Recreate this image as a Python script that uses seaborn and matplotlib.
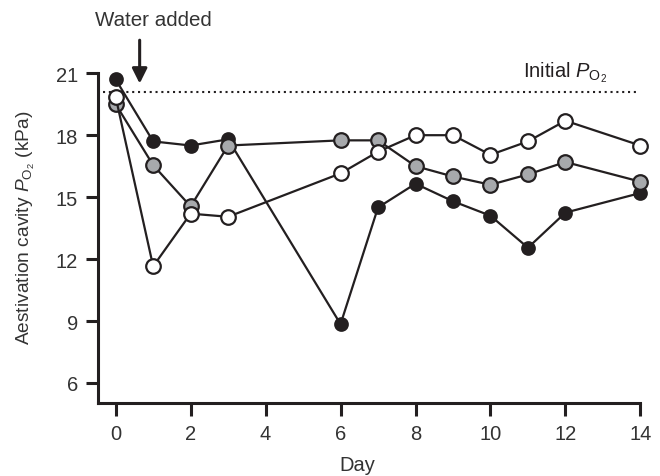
import numpy as np
import pandas as pd
import matplotlib
matplotlib.use("Agg")
import matplotlib.pyplot as plt
import seaborn as sns

# Day of measurement
days = [0, 1, 2, 3, 6, 7, 8, 9, 10, 11, 12, 14]

# Aestivation cavity PO2 (kPa) for three animals
po2_black = [20.7, 17.7, 17.5, 17.8, 8.85, 14.5, 15.65, 14.8, 14.1, 12.55, 14.25, 15.2]
po2_grey = [19.5, 16.55, 14.55, 17.5, 17.75, 17.75, 16.5, 16.0, 15.6, 16.1, 16.7, 15.75]
po2_white = [19.85, 11.65, 14.2, 14.05, 16.15, 17.2, 18.0, 18.0, 17.05, 17.7, 18.7, 17.5]

initial_po2 = 20.08
x_ticks = [0, 2, 4, 6, 8, 10, 12, 14]
y_ticks = [6, 9, 12, 15, 18, 21]

ink = '#231f20'
text_col = '#333333'

sns.set_style("ticks")
plt.rcParams['font.family'] = ['Liberation Sans', 'DejaVu Sans']
plt.rcParams['mathtext.fontset'] = 'custom'
plt.rcParams['mathtext.rm'] = 'Liberation Sans'
plt.rcParams['mathtext.it'] = 'Liberation Sans:italic'

fig = plt.figure(figsize=(6.6, 4.77), dpi=100)
ax = fig.add_axes([0.148, 0.153, 0.845, 0.713])

ax.axhline(initial_po2, xmin=0.009, xmax=0.968, color=ink, linestyle=(0, (1, 1.8)),
           linewidth=1.5, zorder=1)

series = [(po2_black, ink, 9), (po2_grey, '#a7a9ac', 10.5), (po2_white, 'white', 10.5)]
for i, (vals, face, ms) in enumerate(series):
    df = pd.DataFrame({'day': days, 'po2': vals})
    sns.lineplot(data=df, x='day', y='po2', ax=ax, color=ink, linewidth=1.6,
                 marker='o', markersize=ms, markerfacecolor=face,
                 markeredgecolor=ink, markeredgewidth=1.6, zorder=3 + i)

ax.set_xlim(-0.48, 14.4)
ax.set_ylim(5.03, 21.5)
ax.set_xticks(x_ticks)
ax.set_yticks(y_ticks)
ax.spines['top'].set_visible(False)
ax.spines['right'].set_visible(False)
ax.spines['left'].set_bounds(5.03, 21)
ax.spines['bottom'].set_bounds(-0.48, 14)
for s in ['left', 'bottom']:
    ax.spines[s].set_linewidth(2.2)
    ax.spines[s].set_color(ink)
ax.tick_params(axis='both', length=9, width=2.2, color=ink, labelsize=14.5,
               labelcolor=text_col)
ax.tick_params(axis='y', pad=5)
ax.tick_params(axis='x', pad=6)

ax.set_xlabel('Day', fontsize=14.5, color=text_col)
ax.set_ylabel(r'Aestivation cavity $P_{\mathrm{O_2}}$ (kPa)', fontsize=13.8,
              color=text_col)
ax.xaxis.set_label_coords(0.466, -0.182)
ax.yaxis.set_label_coords(-0.129, 0.519)
ax.xaxis.label.set_va('center')
ax.yaxis.label.set_va('center')

ax.annotate('', xy=(0.64, 20.5), xytext=(0.64, 22.6), annotation_clip=False,
            arrowprops=dict(arrowstyle='-|>,head_width=0.45,head_length=0.9',
                            color=ink, linewidth=2.2, shrinkA=0, shrinkB=0))
fig.text(153 / 660, 1 - 20 / 477, 'Water added', fontsize=14.8, color=text_col,
         ha='center', va='center')
ax.text(12.0, 20.86, r'Initial $P_{\mathrm{O_2}}$', fontsize=14.5, color=ink,
        ha='center', va='baseline')

plt.savefig('out.png', dpi=100)
